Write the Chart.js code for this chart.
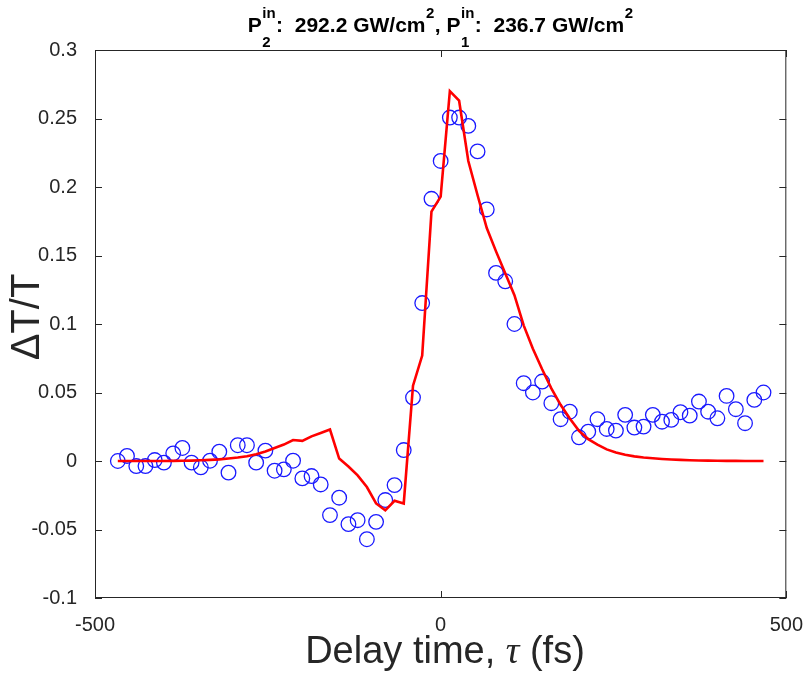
<!DOCTYPE html>
<html>
<head>
<meta charset="utf-8">
<script src="https://cdn.jsdelivr.net/npm/chart.js@4"></script>
<style>
  body { margin: 0; background: #fff; }
  #wrap { width: 810px; height: 675px; }
</style>
</head>
<body>
<div id="wrap"><canvas id="pumpProbe" width="810" height="675"></canvas></div>
<script>
// delay positions (fs)
const delays = [-467.0, -453.7, -440.3, -427.0, -413.6, -400.3, -386.9, -373.6, -360.3, -346.9,
  -333.6, -320.2, -306.9, -293.5, -280.2, -266.9, -253.5, -240.2, -226.8, -213.5,
  -200.1, -186.8, -173.5, -160.1, -146.8, -133.4, -120.1, -106.7, -93.4, -80.1,
  -66.7, -53.4, -40.0, -26.7, -13.3, 0, 13.3, 26.7, 40.0, 53.4,
  66.7, 80.1, 93.4, 106.7, 120.1, 133.4, 146.8, 160.1, 173.5, 186.8,
  200.1, 213.5, 226.8, 240.2, 253.5, 266.9, 280.2, 293.5, 306.9, 320.2,
  333.6, 346.9, 360.3, 373.6, 386.9, 400.3, 413.6, 427.0, 440.3, 453.7, 467.0];

// measured dT/T (circles)
const measured = [0, 0.0037, -0.0037, -0.0037, 0.0007, -0.0012, 0.0056, 0.0095, -0.0012, -0.0046,
  0.0002, 0.0068, -0.0085, 0.0115, 0.0115, -0.0012, 0.0076, -0.0071, -0.0061, 0.0002,
  -0.0127, -0.011, -0.0171, -0.0395, -0.0268, -0.0461, -0.0432, -0.0571, -0.0444, -0.0285,
  -0.0176, 0.008, 0.0463, 0.1153, 0.1914, 0.219, 0.2507, 0.2507, 0.2446, 0.226,
  0.1836, 0.1373, 0.1312, 0.1, 0.0568, 0.05, 0.058, 0.0422, 0.0305, 0.036,
  0.0173, 0.0214, 0.0305, 0.0234, 0.0222, 0.0337, 0.0244, 0.0251, 0.0337, 0.0287,
  0.030, 0.0356, 0.0331, 0.0434, 0.036, 0.0312, 0.0475, 0.0378, 0.0276, 0.0446, 0.05];

// simulated dT/T (red line)
const fitted = [0, 0, 0, 0, 0, 0, 0.0001, 0.0002, 0.0003, 0.0005,
  0.0008, 0.0012, 0.0018, 0.0025, 0.0035, 0.005, 0.007, 0.0095, 0.012, 0.0153,
  0.0147, 0.018, 0.0205, 0.023, 0.0018, -0.004, -0.0105, -0.019, -0.031, -0.036,
  -0.029, -0.031, 0.055, 0.077, 0.182, 0.193, 0.270, 0.263, 0.219, 0.194,
  0.170, 0.153, 0.137, 0.121, 0.099, 0.082, 0.067, 0.053, 0.041, 0.031,
  0.022, 0.016, 0.012, 0.0085, 0.0062, 0.0045, 0.0034, 0.0026, 0.002, 0.0015,
  0.0011, 0.0008, 0.0006, 0.0004, 0.0003, 0.0002, 0.0001, 0.0001, 0, 0, 0];

const xTicks = [-500, 0, 500];
const yTicks = [-0.1, -0.05, 0, 0.05, 0.1, 0.15, 0.2, 0.25, 0.3];
const yTickLabels = ['-0.1', '-0.05', '0', '0.05', '0.1', '0.15', '0.2', '0.25', '0.3'];

const axisColor = '#262626';
const sans = '"Liberation Sans", Arial, sans-serif';

// box, inward ticks, titles (matlab look)
const decorPlugin = {
  id: 'decor',
  afterDraw(chart) {
    const ctx = chart.ctx;
    const a = chart.chartArea;
    const xs = chart.scales.x, ys = chart.scales.y;
    ctx.save();
    ctx.strokeStyle = axisColor;
    ctx.lineWidth = 1;
    ctx.strokeRect(a.left + 0.5, a.top + 0.5, a.right - a.left - 1, a.bottom - a.top - 1);
    ctx.beginPath();
    xTicks.forEach(v => {
      const px = Math.round(xs.getPixelForValue(v)) + 0.5;
      ctx.moveTo(px, a.bottom); ctx.lineTo(px, a.bottom - 7);
      ctx.moveTo(px, a.top); ctx.lineTo(px, a.top + 7);
    });
    yTicks.forEach(v => {
      const py = Math.round(ys.getPixelForValue(v)) + 0.5;
      ctx.moveTo(a.left, py); ctx.lineTo(a.left + 7, py);
      ctx.moveTo(a.right, py); ctx.lineTo(a.right - 7, py);
    });
    ctx.stroke();

    // title with stacked super/subscripts
    const big = 'bold 21px ' + sans, small = 'bold 15px ' + sans;
    const parts = [
      { t: 'P' }, { sup: 'in', sub: '2' }, { t: ':  292.2 GW/cm' }, { sup: '2' },
      { t: ', P' }, { sup: 'in', sub: '1' }, { t: ':  236.7 GW/cm' }, { sup: '2' }
    ];
    const widthOf = p => {
      if (p.t) { ctx.font = big; return ctx.measureText(p.t).width; }
      ctx.font = small;
      return Math.max(ctx.measureText(p.sup || '').width, ctx.measureText(p.sub || '').width) + 1;
    };
    const total = parts.reduce((s, p) => s + widthOf(p), 0);
    let x = (a.left + a.right) / 2 - total / 2;
    const base = 32;
    ctx.fillStyle = '#000';
    ctx.textAlign = 'left';
    ctx.textBaseline = 'alphabetic';
    parts.forEach(p => {
      const w = widthOf(p);
      if (p.t) { ctx.font = big; ctx.fillText(p.t, x, base); }
      else {
        ctx.font = small;
        if (p.sup) ctx.fillText(p.sup, x + 0.5, base - 14);
        if (p.sub) ctx.fillText(p.sub, x + 0.5, base + 15);
      }
      x += w;
    });

    // x axis title with italic tau
    const xParts = [
      { t: 'Delay time, ', f: '38px ' + sans },
      { t: '\u03c4', f: 'italic 38px "Liberation Serif", "Times New Roman", serif' },
      { t: ' (fs)', f: '38px ' + sans }
    ];
    ctx.fillStyle = axisColor;
    let xw = 0;
    xParts.forEach(p => { ctx.font = p.f; xw += ctx.measureText(p.t).width; });
    let xx = 445 - xw / 2;
    xParts.forEach(p => { ctx.font = p.f; ctx.fillText(p.t, xx, 663); xx += ctx.measureText(p.t).width; });

    // y axis title
    ctx.translate(28, 317);
    ctx.rotate(-Math.PI / 2);
    ctx.font = '40px ' + sans;
    ctx.textAlign = 'center';
    ctx.textBaseline = 'middle';
    ctx.fillText('\u0394T/T', 0, 0);
    ctx.restore();
  }
};

new Chart(document.getElementById('pumpProbe'), {
  type: 'scatter',
  data: {
    datasets: [
      {
        label: 'simulation',
        data: delays.map((d, i) => ({ x: d, y: fitted[i] })),
        showLine: true,
        borderColor: '#ff0000',
        borderWidth: 2.6,
        pointRadius: 0,
        tension: 0,
        fill: false
      },
      {
        label: 'experiment',
        data: delays.map((d, i) => ({ x: d, y: measured[i] })),
        showLine: false,
        pointStyle: 'circle',
        pointRadius: 7.3,
        pointBorderWidth: 1.3,
        borderColor: '#1a1aff',
        backgroundColor: 'rgba(0,0,0,0)'
      }
    ]
  },
  options: {
    responsive: false,
    animation: false,
    layout: { padding: { top: 50, right: 20, left: 0, bottom: 0 } },
    plugins: {
      legend: { display: false },
      tooltip: { enabled: false },
      title: { display: false }
    },
    scales: {
      x: {
        type: 'linear',
        min: -500,
        max: 500,
        afterBuildTicks: s => { s.ticks = xTicks.map(v => ({ value: v })); },
        afterFit: s => { s.height = 77; },
        ticks: {
          color: axisColor,
          font: { family: sans, size: 20 },
          padding: 7,
          maxRotation: 0,
          autoSkip: false
        },
        grid: { display: false },
        border: { display: false }
      },
      y: {
        type: 'linear',
        min: -0.1,
        max: 0.3,
        afterBuildTicks: s => { s.ticks = yTicks.map(v => ({ value: v })); },
        afterFit: s => { s.width = 95; },
        ticks: {
          color: axisColor,
          font: { family: sans, size: 20 },
          padding: 10,
          autoSkip: false,
          callback: (v, i) => yTickLabels[i]
        },
        grid: { display: false },
        border: { display: false }
      }
    }
  },
  plugins: [decorPlugin]
});
</script>
</body>
</html>
